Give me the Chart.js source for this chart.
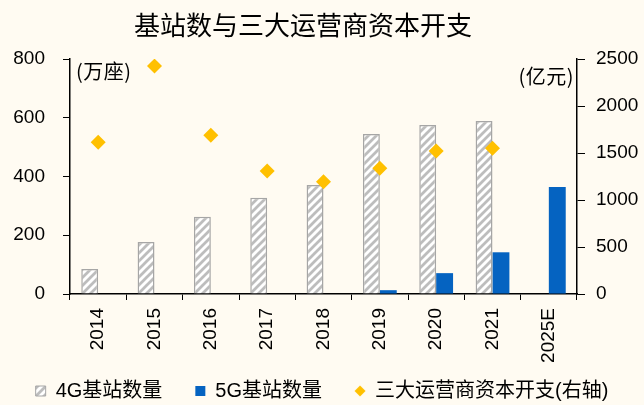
<!DOCTYPE html>
<html>
<head>
<meta charset="utf-8">
<script src="https://cdn.jsdelivr.net/npm/chart.js@4.4.0/dist/chart.umd.min.js"></script>
<style>
  html, body { margin: 0; padding: 0; background: #FFFBF2; }
  #wrap { width: 644px; height: 405px; }
</style>
</head>
<body>
<div id="wrap"><canvas id="myChart" width="644" height="405"></canvas></div>
<script>
const years = ['2014', '2015', '2016', '2017', '2018', '2019', '2020', '2021', '2025E'];
const station4G = [85, 177, 263, 328, 371, 545, 575, 589, 0];
const station5G = [0, 0, 0, 0, 0, 13, 71, 142, 364];
const capex = [1614, 2425, 1688, 1309, 1195, 1337, 1521, 1550, null];
const leftTicks = [0, 200, 400, 600, 800];
const rightTicks = [0, 500, 1000, 1500, 2000, 2500];

const FONT = '"Liberation Sans", Arial, "Noto Sans CJK SC", sans-serif';

// hatched fill for 4G bars
function makeHatch() {
  const c = document.createElement('canvas');
  c.width = 8; c.height = 8;
  const g = c.getContext('2d');
  g.fillStyle = '#ffffff';
  g.fillRect(0, 0, 8, 8);
  g.strokeStyle = '#BDBDBD';
  g.lineWidth = 2.8;
  g.beginPath();
  g.moveTo(-2, 10); g.lineTo(10, -2);
  g.moveTo(-2, 2); g.lineTo(2, -2);
  g.moveTo(6, 10); g.lineTo(10, 6);
  g.stroke();
  return g.createPattern(c, 'repeat');
}
const hatch = makeHatch();

// small diamond for the legend
function makeDiamond() {
  const c = document.createElement('canvas');
  c.width = 12; c.height = 12;
  const g = c.getContext('2d');
  g.fillStyle = '#FFC000';
  g.beginPath();
  g.moveTo(6, 0.5); g.lineTo(11.5, 6); g.lineTo(6, 11.5); g.lineTo(0.5, 6);
  g.closePath();
  g.fill();
  return c;
}
const diamondIcon = makeDiamond();

const extraText = {
  id: 'extraText',
  afterInit(chart) {
    const lg = chart.legend;
    if (lg) {
      // fixed legend box height so the plot bottom lands where it should
      const fit = lg.fit.bind(lg);
      lg.fit = function () { fit(); this.height = 57; };
    }
  },
  afterDraw(chart) {
    const ctx = chart.ctx;
    ctx.save();
    ctx.fillStyle = '#000';
    ctx.textBaseline = 'middle';
    ctx.textAlign = 'center';
    ctx.font = '26px "Noto Sans CJK SC", sans-serif';
    ctx.fillText('基站数与三大运营商资本开支', 303, 25);
    ctx.font = '20px "Noto Sans CJK SC", sans-serif';
    ctx.letterSpacing = '0.5px';
    ctx.textAlign = 'left';
    ctx.fillText('(万座)', 76, 71);
    ctx.textAlign = 'right';
    ctx.fillText('(亿元)', 574, 76);
    ctx.restore();
  }
};

const bg = {
  id: 'bg',
  beforeDraw(chart) {
    const ctx = chart.ctx;
    ctx.save();
    ctx.fillStyle = '#FFFBF2';
    ctx.fillRect(0, 0, chart.width, chart.height);
    ctx.restore();
  }
};

const ctx = document.getElementById('myChart');

new Chart(ctx, {
  data: {
    labels: years,
    datasets: [{
      type: 'bar',
      label: '4G基站数量',
      data: station4G,
      backgroundColor: hatch,
      borderColor: '#A6A6A6',
      borderWidth: 1.5,
      yAxisID: 'y',
      order: 2,
      categoryPercentage: 0.6,
      barPercentage: 1
    }, {
      type: 'bar',
      label: '5G基站数量',
      data: station5G,
      backgroundColor: '#0563C1',
      borderWidth: 0,
      yAxisID: 'y',
      order: 2,
      categoryPercentage: 0.6,
      barPercentage: 1
    }, {
      type: 'line',
      label: '三大运营商资本开支(右轴)',
      data: capex,
      showLine: false,
      pointStyle: 'rectRot',
      pointRadius: 7.5,
      pointHoverRadius: 7.5,
      backgroundColor: '#FFC000',
      borderColor: '#FFC000',
      pointBorderWidth: 0,
      yAxisID: 'y1',
      order: 0
    }]
  },
  options: {
    responsive: false,
    animation: false,
    layout: { padding: { top: 59, left: 0, right: 0, bottom: 0 } },
    plugins: {
      title: { display: false },
      tooltip: { enabled: false },
      legend: {
        position: 'bottom',
        labels: {
          usePointStyle: true,
          boxWidth: 10,
          boxHeight: 10,
          padding: 33,
          color: '#000',
          font: { family: FONT, size: 20 },
          sort: (a, b) => a.datasetIndex - b.datasetIndex,
          generateLabels(chart) {
            const items = Chart.defaults.plugins.legend.labels.generateLabels(chart);
            items.forEach(it => {
              if (it.datasetIndex === 0) { it.pointStyle = 'rect'; it.lineWidth = 1; it.strokeStyle = '#A6A6A6'; }
              else if (it.datasetIndex === 1) { it.pointStyle = 'rect'; it.lineWidth = 0; }
              else { it.pointStyle = diamondIcon; }
            });
            return items;
          }
        }
      }
    },
    scales: {
      x: {
        offset: true,
        afterFit(scale) { scale.height = 54; },
        // let the rotated year labels run past the axis box
        afterUpdate(scale) { scale._computeLabelArea = () => undefined; },
        grid: { display: true, drawOnChartArea: false, offset: true, tickLength: 6, color: '#000' },
        border: { color: '#000', width: 1.5 },
        ticks: {
          minRotation: 90, maxRotation: 90,
          color: '#000',
          font: { family: FONT, size: 19 },
          padding: 8
        }
      },
      y: {
        position: 'left',
        min: 0, max: 800,
        afterBuildTicks(scale) { scale.ticks = leftTicks.map(v => ({ value: v })); },
        afterFit(scale) { scale.width = 70; },
        grid: { display: true, drawOnChartArea: false, tickLength: 7, color: '#000' },
        border: { color: '#000', width: 1.5 },
        ticks: { color: '#000', font: { family: FONT, size: 19 }, padding: 18 }
      },
      y1: {
        position: 'right',
        min: 0, max: 2500,
        afterBuildTicks(scale) { scale.ticks = rightTicks.map(v => ({ value: v })); },
        afterFit(scale) { scale.width = 67; },
        grid: { display: true, drawOnChartArea: false, tickLength: 8, color: '#000' },
        border: { color: '#000', width: 1.5 },
        ticks: {
          color: '#000', font: { family: FONT, size: 19 }, padding: 11,
          callback: v => String(v)
        }
      }
    }
  },
  plugins: [bg, extraText]
});
</script>
</body>
</html>
